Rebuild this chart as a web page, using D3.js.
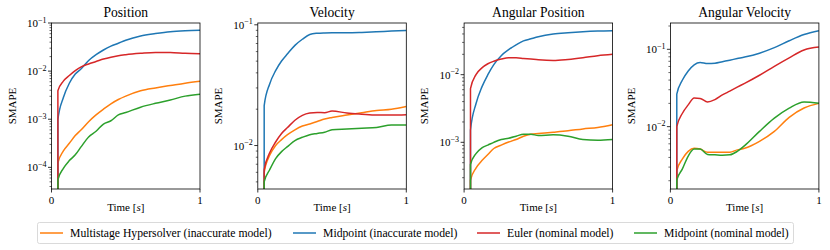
<!DOCTYPE html>
<html>
<head>
<meta charset="utf-8">
<script src="https://cdnjs.cloudflare.com/ajax/libs/d3/7.8.5/d3.min.js"></script>
<style>
  body { margin: 0; background: #fff; }
  text { font-family: "Liberation Serif", "DejaVu Serif", serif; fill: #000; }
</style>
</head>
<body>
<svg id="chart"></svg>
<script>
/*
 *  Data
 */
var titles = ["Position", "Velocity", "Angular Position", "Angular Velocity"];

var time = [0.043, 0.08, 0.12, 0.16, 0.2, 0.25, 0.3, 0.35, 0.4, 0.45, 0.5, 0.6, 0.7, 0.8, 0.9, 1.0];

// log10 range shown on each y axis
var yExtent = [[-4.45, -1], [-2.36, -0.985], [-3.69, -1.236], [-2.806, -0.66]];

var seriesNames = [
  "Multistage Hypersolver (inaccurate model)",
  "Midpoint (inaccurate model)",
  "Euler (nominal model)",
  "Midpoint (nominal model)"
];
var seriesColors = ["#ff7f0e", "#1f77b4", "#d62728", "#2ca02c"];

// Position
var posHyper = [1.23e-4, 2.19e-4, 3.16e-4, 4.57e-4, 6.03e-4, 8.9e-4, 1.23e-3, 1.62e-3, 2.09e-3, 2.57e-3, 3.02e-3, 3.89e-3, 4.47e-3, 5.01e-3, 5.62e-3, 6.17e-3];
var posMidInacc = [9.8e-4, 2.82e-3, 5.6e-3, 8.7e-3, 1.12e-2, 1.66e-2, 2.19e-2, 2.75e-2, 3.31e-2, 3.8e-2, 4.37e-2, 5.37e-2, 6.03e-2, 6.61e-2, 6.92e-2, 7.08e-2];
var posEuler = [3.9e-3, 6.2e-3, 8.1e-3, 1.02e-2, 1.23e-2, 1.41e-2, 1.58e-2, 1.78e-2, 1.95e-2, 2.09e-2, 2.19e-2, 2.34e-2, 2.45e-2, 2.45e-2, 2.34e-2, 2.29e-2];
var posMidNom = [5.5e-5, 9.5e-5, 1.38e-4, 1.82e-4, 2.69e-4, 4.27e-4, 5.62e-4, 7.94e-4, 9.3e-4, 1.23e-3, 1.38e-3, 1.78e-3, 2.14e-3, 2.51e-3, 3.02e-3, 3.31e-3];

// Velocity
var velHyper = [6.0e-3, 8.3e-3, 1.0e-2, 1.12e-2, 1.23e-2, 1.35e-2, 1.45e-2, 1.51e-2, 1.58e-2, 1.66e-2, 1.71e-2, 1.79e-2, 1.87e-2, 1.95e-2, 2.0e-2, 2.11e-2];
var velMidInacc = [2.14e-2, 3.24e-2, 4.17e-2, 5.01e-2, 5.75e-2, 6.76e-2, 7.59e-2, 8.32e-2, 8.51e-2, 8.57e-2, 8.59e-2, 8.59e-2, 8.65e-2, 8.75e-2, 8.87e-2, 8.97e-2];
var velEuler = [6.3e-3, 8.7e-3, 1.07e-2, 1.26e-2, 1.41e-2, 1.62e-2, 1.78e-2, 1.86e-2, 1.88e-2, 1.87e-2, 1.93e-2, 1.86e-2, 1.82e-2, 1.79e-2, 1.79e-2, 1.8e-2];
var velMidNom = [5.0e-3, 6.3e-3, 7.8e-3, 8.9e-3, 9.8e-3, 1.1e-2, 1.17e-2, 1.23e-2, 1.26e-2, 1.29e-2, 1.35e-2, 1.37e-2, 1.39e-2, 1.41e-2, 1.48e-2, 1.48e-2];

// Angular position
var angPosHyper = [2.75e-4, 4.17e-4, 5.37e-4, 6.61e-4, 8.1e-4, 9.1e-4, 1.01e-3, 1.1e-3, 1.23e-3, 1.32e-3, 1.35e-3, 1.41e-3, 1.48e-3, 1.58e-3, 1.66e-3, 1.82e-3];
var angPosMidInacc = [1.51e-3, 3.72e-3, 6.6e-3, 1.0e-2, 1.41e-2, 1.91e-2, 2.34e-2, 2.75e-2, 3.16e-2, 3.39e-2, 3.63e-2, 3.98e-2, 4.17e-2, 4.32e-2, 4.42e-2, 4.47e-2];
var angPosEuler = [6.2e-3, 1.0e-2, 1.26e-2, 1.45e-2, 1.58e-2, 1.7e-2, 1.78e-2, 1.78e-2, 1.74e-2, 1.7e-2, 1.66e-2, 1.62e-2, 1.68e-2, 1.78e-2, 1.91e-2, 2.0e-2];
var angPosMidNom = [4.7e-4, 6.8e-4, 8.3e-4, 9.1e-4, 1.0e-3, 1.1e-3, 1.15e-3, 1.23e-3, 1.32e-3, 1.32e-3, 1.26e-3, 1.29e-3, 1.23e-3, 1.1e-3, 1.07e-3, 1.1e-3];

// Angular velocity
var angVelHyper = [2.69e-3, 3.8e-3, 4.79e-3, 5.25e-3, 5.13e-3, 4.68e-3, 4.68e-3, 4.68e-3, 4.68e-3, 5.01e-3, 5.25e-3, 6.46e-3, 8.7e-3, 1.32e-2, 1.74e-2, 2.0e-2];
var angVelMidInacc = [2.63e-2, 3.98e-2, 5.25e-2, 6.31e-2, 6.76e-2, 6.53e-2, 6.61e-2, 6.92e-2, 7.24e-2, 7.59e-2, 7.94e-2, 8.91e-2, 0.105, 0.129, 0.155, 0.174];
var angVelEuler = [1.0e-2, 1.48e-2, 1.91e-2, 2.34e-2, 2.32e-2, 2.09e-2, 2.24e-2, 2.57e-2, 2.88e-2, 3.24e-2, 3.63e-2, 4.62e-2, 6.03e-2, 7.76e-2, 9.8e-2, 0.107];
var angVelMidNom = [2.04e-3, 2.82e-3, 4.17e-3, 5.13e-3, 5.13e-3, 4.37e-3, 4.32e-3, 4.27e-3, 4.32e-3, 4.79e-3, 5.69e-3, 8.7e-3, 1.29e-2, 1.74e-2, 2.09e-2, 2.0e-2];

var panelSeries = [
  [posHyper, posMidInacc, posEuler, posMidNom],
  [velHyper, velMidInacc, velEuler, velMidNom],
  [angPosHyper, angPosMidInacc, angPosEuler, angPosMidNom],
  [angVelHyper, angVelMidInacc, angVelEuler, angVelMidNom]
];

/*
 *  Layout
 */
var width = 830,
    height = 250;

var firstLeft = 51.5, panelGap = 206.3, panelW = 148.5;
var plotTop = 23, plotBottom = 189;
var plotH = plotBottom - plotTop;

var svg = d3.select("#chart")
  .attr("width", width)
  .attr("height", height);

var x = d3.scaleLinear().domain([0, 1]).range([0, panelW]);

var line = d3.line()
  .curve(d3.curveMonotoneX);

panelSeries.forEach(function(series, p) {
  var left = firstLeft + p * panelGap;
  var ext = yExtent[p];
  var y = d3.scaleLog()
    .domain([Math.pow(10, ext[0]), Math.pow(10, ext[1])])
    .range([plotH, 0]);

  var g = svg.append("g")
    .attr("transform", "translate(" + left + "," + plotTop + ")");

  g.append("clipPath")
    .attr("id", "clip" + p)
    .append("rect")
    .attr("width", panelW)
    .attr("height", plotH);

  // series lines; each starts from the bottom edge (first sample is zero)
  var lines = g.append("g").attr("clip-path", "url(#clip" + p + ")");
  series.forEach(function(vals, s) {
    var pts = [[x(time[0]), y.range()[0] + 2]];
    vals.forEach(function(v, i) { pts.push([x(time[i]), y(v)]); });
    lines.append("path")
      .attr("d", line(pts))
      .style("fill", "none")
      .style("stroke", seriesColors[s])
      .style("stroke-width", 1.5)
      .style("stroke-linejoin", "round");
  });

  // y ticks, major at decades and minor in between
  var majors = [], minors = [];
  for (var d = Math.floor(ext[0]); d <= Math.ceil(ext[1]); d++) {
    if (d >= ext[0] - 1e-9 && d <= ext[1] + 1e-9) majors.push(d);
    for (var m = 2; m <= 9; m++) {
      var lv = d + Math.log10(m);
      if (lv >= ext[0] && lv <= ext[1]) minors.push(Math.pow(10, lv));
    }
  }

  g.selectAll(".minor")
    .data(minors)
    .enter().append("line")
      .attr("x1", -2).attr("x2", 0)
      .attr("y1", function(v) { return y(v); })
      .attr("y2", function(v) { return y(v); })
      .style("stroke", "#000").style("stroke-width", 0.6);

  g.selectAll(".major")
    .data(majors)
    .enter().append("line")
      .attr("x1", -3.5).attr("x2", 0)
      .attr("y1", function(d) { return y(Math.pow(10, d)); })
      .attr("y2", function(d) { return y(Math.pow(10, d)); })
      .style("stroke", "#000").style("stroke-width", 0.8);

  var lab = g.selectAll(".ylab")
    .data(majors)
    .enter().append("text")
      .attr("x", -5)
      .attr("y", function(d) { return y(Math.pow(10, d)) + 4; })
      .attr("text-anchor", "end")
      .style("font-size", "11px");
  lab.append("tspan").text("10");
  lab.append("tspan")
    .attr("dy", -4.5)
    .style("font-size", "8px")
    .text(function(d) { return "\u2212" + (-d); });

  // x ticks at 0 and 1
  g.selectAll(".xtick")
    .data([0, 1])
    .enter().append("line")
      .attr("x1", function(d) { return x(d); })
      .attr("x2", function(d) { return x(d); })
      .attr("y1", plotH).attr("y2", plotH + 3.5)
      .style("stroke", "#000").style("stroke-width", 0.8);

  g.selectAll(".xlab")
    .data([0, 1])
    .enter().append("text")
      .attr("x", function(d) { return x(d); })
      .attr("y", plotH + 15)
      .attr("text-anchor", "middle")
      .style("font-size", "11px")
      .text(function(d) { return d; });

  var xl = g.append("text")
    .attr("x", panelW / 2)
    .attr("y", plotH + 22)
    .attr("text-anchor", "middle")
    .style("font-size", "11px");
  xl.append("tspan").text("Time [");
  xl.append("tspan").style("font-style", "italic").text("s");
  xl.append("tspan").text("]");

  g.append("text")
    .attr("transform", "translate(" + (-39.5) + "," + (plotH / 2) + ") rotate(-90)")
    .attr("text-anchor", "middle")
    .attr("dy", "0.35em")
    .style("font-size", "11px")
    .text("SMAPE");

  g.append("text")
    .attr("x", panelW / 2)
    .attr("y", -6)
    .attr("text-anchor", "middle")
    .style("font-size", "13.6px")
    .text(titles[p]);

  // frame
  g.append("rect")
    .attr("width", panelW)
    .attr("height", plotH)
    .style("fill", "none")
    .style("stroke", "#000")
    .style("stroke-width", 0.8);
});

/*
 *  Legend
 */
var legendX = [40, 293, 477, 634];

svg.append("rect")
  .attr("x", 37.5).attr("y", 222.5)
  .attr("width", 756).attr("height", 21)
  .attr("rx", 2)
  .style("fill", "#fff")
  .style("stroke", "#d0d0d0")
  .style("stroke-width", 0.8);

var items = svg.selectAll(".legitem")
  .data(seriesNames)
  .enter().append("g")
    .attr("transform", function(d, i) { return "translate(" + legendX[i] + ",233)"; });

items.append("line")
  .attr("x1", 0).attr("x2", 23)
  .style("stroke", function(d, i) { return seriesColors[i]; })
  .style("stroke-width", 1.5);

items.append("text")
  .attr("x", 30)
  .attr("dy", "0.35em")
  .style("font-size", "11.7px")
  .text(function(d) { return d; });
</script>
</body>
</html>
